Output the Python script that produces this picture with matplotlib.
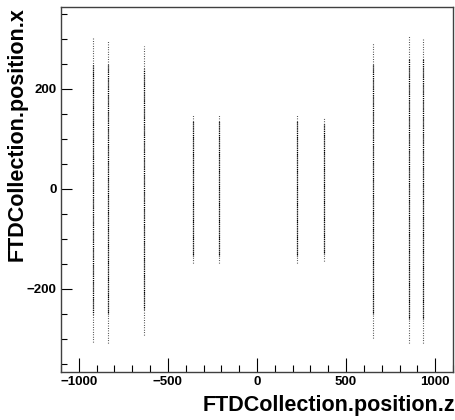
import numpy as np
import matplotlib
matplotlib.use('Agg')
import matplotlib.pyplot as plt
from matplotlib.ticker import MultipleLocator

# FTD disk hits: z position of each layer and the x extent of its hits
disk_z = [-918, -836, -635, -361, -211, 227, 376, 650, 851, 929]
x_top = [304, 298, 286, 148, 150, 150, 142, 292, 306, 302]
x_bottom = [-306, -308, -292, -148, -148, -148, -145, -298, -308, -308]
# denser core of each band
core_half = [250, 250, 240, 135, 135, 135, 130, 250, 260, 260]

plt.rcParams['font.family'] = ['Liberation Sans', 'DejaVu Sans']

fig = plt.figure(figsize=(4.56, 4.2), dpi=100)
ax = fig.add_axes([61 / 456, 1 - 372 / 420, 392 / 456, 365 / 420])

ax.vlines(disk_z, x_bottom, x_top, colors='0.15', linewidths=0.8,
          linestyles=(0, (0.7, 1.5)))
core = np.array(core_half)
ax.vlines(disk_z, -core, core, colors='k', linewidths=0.9,
          linestyles=(0.5, (0.9, 0.8)))

ax.set_xlim(-1100, 1100)
ax.set_ylim(-366, 364)

ax.xaxis.set_major_locator(MultipleLocator(500))
ax.xaxis.set_minor_locator(MultipleLocator(100))
ax.yaxis.set_major_locator(MultipleLocator(200))
ax.yaxis.set_minor_locator(MultipleLocator(50))
ax.tick_params(axis='x', which='major', direction='in', length=10, width=0.8,
               labelsize=9.5, pad=3)
ax.tick_params(axis='x', which='minor', direction='in', length=5, width=0.8)
ax.tick_params(axis='y', which='major', direction='in', length=8, width=0.8,
               labelsize=9.5, pad=3)
ax.tick_params(axis='y', which='minor', direction='in', length=4, width=0.8)
for lab in ax.get_xticklabels() + ax.get_yticklabels():
    lab.set_fontweight('bold')

for sp in ax.spines.values():
    sp.set_color('0.25')
    sp.set_linewidth(1.0)

fig.text(455 / 456, 1 - 406 / 420, 'FTDCollection.position.z', ha='right',
         va='center', fontsize=15.5, fontweight='bold')
fig.text(17 / 456, 1 - 7 / 420, 'FTDCollection.position.x', ha='center',
         va='top', rotation=90, fontsize=15.5, fontweight='bold')

fig.savefig('out.png', dpi=100)
